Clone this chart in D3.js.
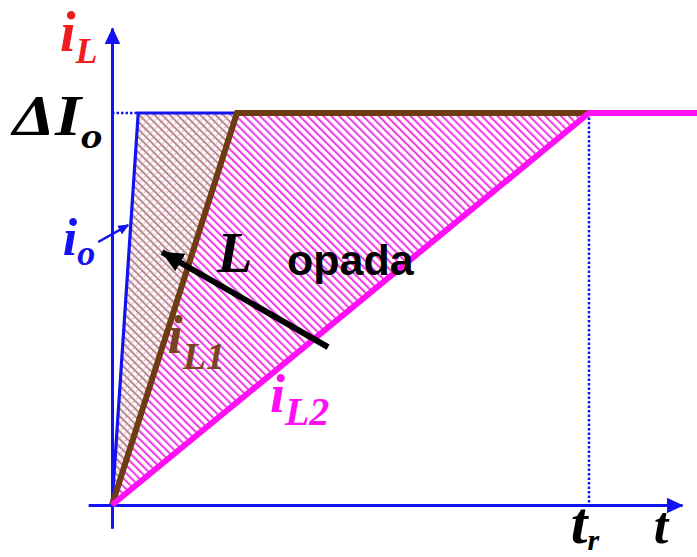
<!DOCTYPE html>
<html><head><meta charset="utf-8">
<script src="https://cdn.jsdelivr.net/npm/d3@7"></script>
<style>body{margin:0;background:#fff}svg{display:block}</style>
</head><body>
<script>
// ---- data (time in units of t_r, current in units of ΔI_o) ----
const ioTimes   = [0, 0.055, 0.262];
const ioValues  = [0, 1, 1];
const iL1Times  = [0, 0.262, 1.0];
const iL1Values = [0, 1, 1];
const iL2Times  = [0, 1.0, 1.23];
const iL2Values = [0, 1, 1];
const xAxisExtent = [-0.05, 1.195];
const yAxisExtent = [-0.059, 1.217];
const trValue = 1.0;
const dIValue = 1.0;
// annotation arrows [from, to] in data units
const arrowL  = [[0.453, 0.403], [0.105, 0.645]];
const arrowIo = [[-0.029, 0.671], [0.034, 0.714]];
// labels: main text, subscript, position in data units
const labelTexts = ["i", "ΔI", "i", "L", "opada", "i", "i", "t", "t"];
const labelSubs  = ["L", "o", "o", "", "", "L1", "L2", "r", ""];
const labelT     = [-0.109, -0.208, -0.103, 0.220, 0.367, 0.117, 0.331, 0.962, 1.136];
const labelV     = [1.158, 0.944, 0.638, 0.594, 0.587, 0.388, 0.237, -0.097, -0.097];

const W = 697, H = 557;
const svg = d3.select("body").append("svg").attr("width", W).attr("height", H);
const x = d3.scaleLinear().domain([0, trValue]).range([112, 589]);
const y = d3.scaleLinear().domain([0, dIValue]).range([505, 113]);

const BLUE = "#1212f2", BROWN = "#6e3b12", MAG = "#ff10f4", RED = "#ee1c1c";

const defs = svg.append("defs");
function marker(id, color, len, wid) {
  defs.append("marker").attr("id", id).attr("markerUnits", "userSpaceOnUse")
    .attr("viewBox", `0 0 ${len} ${wid}`).attr("markerWidth", len).attr("markerHeight", wid)
    .attr("refX", len - 1).attr("refY", wid / 2).attr("orient", "auto")
    .append("path").attr("d", `M0,0L${len},${wid/2}L0,${wid}Z`).attr("fill", color);
}
marker("axArrow", BLUE, 17, 16);
marker("blkArrow", "#000", 22, 20);
marker("ioArrow", BLUE, 11, 10);

// hatch patterns
const pMag = defs.append("pattern").attr("id", "hMag").attr("patternUnits", "userSpaceOnUse")
  .attr("width", 5.6).attr("height", 10).attr("patternTransform", "rotate(-45)");
pMag.append("rect").attr("width", 5.6).attr("height", 10).attr("fill", "#fff");
pMag.append("rect").attr("width", 2.1).attr("height", 10).attr("fill", "#f040e8");

const pBr = defs.append("pattern").attr("id", "hBr").attr("patternUnits", "userSpaceOnUse")
  .attr("width", 5.4).attr("height", 5.4).attr("patternTransform", "rotate(-45)");
pBr.append("rect").attr("width", 5.4).attr("height", 5.4).attr("fill", "#fff");
pBr.append("rect").attr("width", 2.0).attr("height", 5.4).attr("fill", "#b8888a");
pBr.append("rect").attr("x", 2.7).attr("width", 5.4).attr("height", 1.2).attr("fill", "#eab4dc");

// hatched regions
const poly = d3.line().x(d => x(d[0])).y(d => y(d[1]));
const brownRegion = [[ioTimes[0], ioValues[0]], [ioTimes[1], ioValues[1]], [iL1Times[1], iL1Values[1]]];
const magRegion = [[iL1Times[0], iL1Values[0]], [iL1Times[1], iL1Values[1]], [iL2Times[1], iL2Values[1]]];
svg.append("path").attr("d", poly(brownRegion) + "Z").attr("fill", "url(#hBr)");
svg.append("path").attr("d", poly(magRegion) + "Z").attr("fill", "url(#hMag)");

// dotted guides
svg.append("line").attr("x1", x(0)).attr("x2", x(ioTimes[1])).attr("y1", y(dIValue)).attr("y2", y(dIValue))
  .attr("stroke", BLUE).attr("stroke-width", 2.5).attr("stroke-dasharray", "2.5,2");
svg.append("line").attr("x1", x(trValue)).attr("x2", x(trValue)).attr("y1", y(dIValue)).attr("y2", y(0))
  .attr("stroke", BLUE).attr("stroke-width", 2.5).attr("stroke-dasharray", "2.5,2");

// axes
const xAx = d3.scaleLinear().domain(xAxisExtent).range(xAxisExtent.map(x));
const yAx = d3.scaleLinear().domain(yAxisExtent).range(yAxisExtent.map(y));
const gx = svg.append("g").attr("transform", `translate(0,${y(0)})`)
  .call(d3.axisBottom(xAx).tickValues([]).tickSizeOuter(0));
const gy = svg.append("g").attr("transform", `translate(${x(0)},0)`)
  .call(d3.axisLeft(yAx).tickValues([]).tickSizeOuter(0));
[gx, gy].forEach(g => g.select(".domain").attr("stroke", BLUE).attr("stroke-width", 3)
  .attr("marker-end", "url(#axArrow)"));

// series lines
const line = d3.line().x(d => x(d[0])).y(d => y(d[1]));
svg.append("path").attr("d", line(d3.zip(ioTimes, ioValues))).attr("fill", "none")
  .attr("stroke", BLUE).attr("stroke-width", 3.2).attr("stroke-linejoin", "miter");
svg.append("path").attr("d", line(d3.zip(iL1Times, iL1Values))).attr("fill", "none")
  .attr("stroke", BROWN).attr("stroke-width", 6).attr("stroke-linejoin", "miter");
svg.append("path").attr("d", line(d3.zip(iL2Times, iL2Values))).attr("fill", "none")
  .attr("stroke", MAG).attr("stroke-width", 6).attr("stroke-linejoin", "miter");

// annotation arrows
svg.append("line").attr("x1", x(arrowL[0][0])).attr("y1", y(arrowL[0][1]))
  .attr("x2", x(arrowL[1][0])).attr("y2", y(arrowL[1][1]))
  .attr("stroke", "#000").attr("stroke-width", 6).attr("marker-end", "url(#blkArrow)");
svg.append("line").attr("x1", x(arrowIo[0][0])).attr("y1", y(arrowIo[0][1]))
  .attr("x2", x(arrowIo[1][0])).attr("y2", y(arrowIo[1][1]))
  .attr("stroke", BLUE).attr("stroke-width", 2.5).attr("marker-end", "url(#ioArrow)");

// labels
const SERIF = "'Liberation Serif','Times New Roman',serif";
const SANS = "'Liberation Sans',Arial,sans-serif";
const labelStyle = [
  {c: RED,   f: SERIF, s: 56, ss: 36, dy: 12, dx: 0},
  {c: "#000",f: SERIF, s: 56, ss: 36, dy: 13, dx: 0, sx: 1.2},
  {c: BLUE,  f: SERIF, s: 52, ss: 36, dy: 10, dx: 0},
  {c: "#000",f: SERIF, s: 58, ss: 0,  dy: 0, dx: 0},
  {c: "#000",f: SANS,  s: 43, ss: 0,  dy: 0, dx: 0, upright: true},
  {c: "#7a4422",f: SERIF, s: 54, ss: 38, dy: 16, dx: 0},
  {c: MAG,   f: SERIF, s: 54, ss: 40, dy: 13, dx: 0},
  {c: "#000",f: SERIF, s: 60, ss: 30, dy: 7, dx: 0},
  {c: "#000",f: SERIF, s: 52, ss: 0,  dy: 0, dx: 0},
];
labelTexts.forEach((txt, i) => {
  const st = labelStyle[i];
  const px = x(labelT[i]), py = y(labelV[i]);
  const t = svg.append("text").attr("x", px).attr("y", py)
    .attr("fill", st.c).attr("font-family", st.f).attr("font-weight", "bold")
    .attr("font-style", st.upright ? "normal" : "italic").attr("font-size", st.s);
  if (st.sx) t.attr("transform", `translate(${px},0) scale(${st.sx},1) translate(${-px},0)`);
  t.append("tspan").text(txt);
  if (labelSubs[i]) t.append("tspan").attr("dy", st.dy).attr("dx", st.dx).attr("font-size", st.ss).text(labelSubs[i]);
});
</script>
</body></html>
